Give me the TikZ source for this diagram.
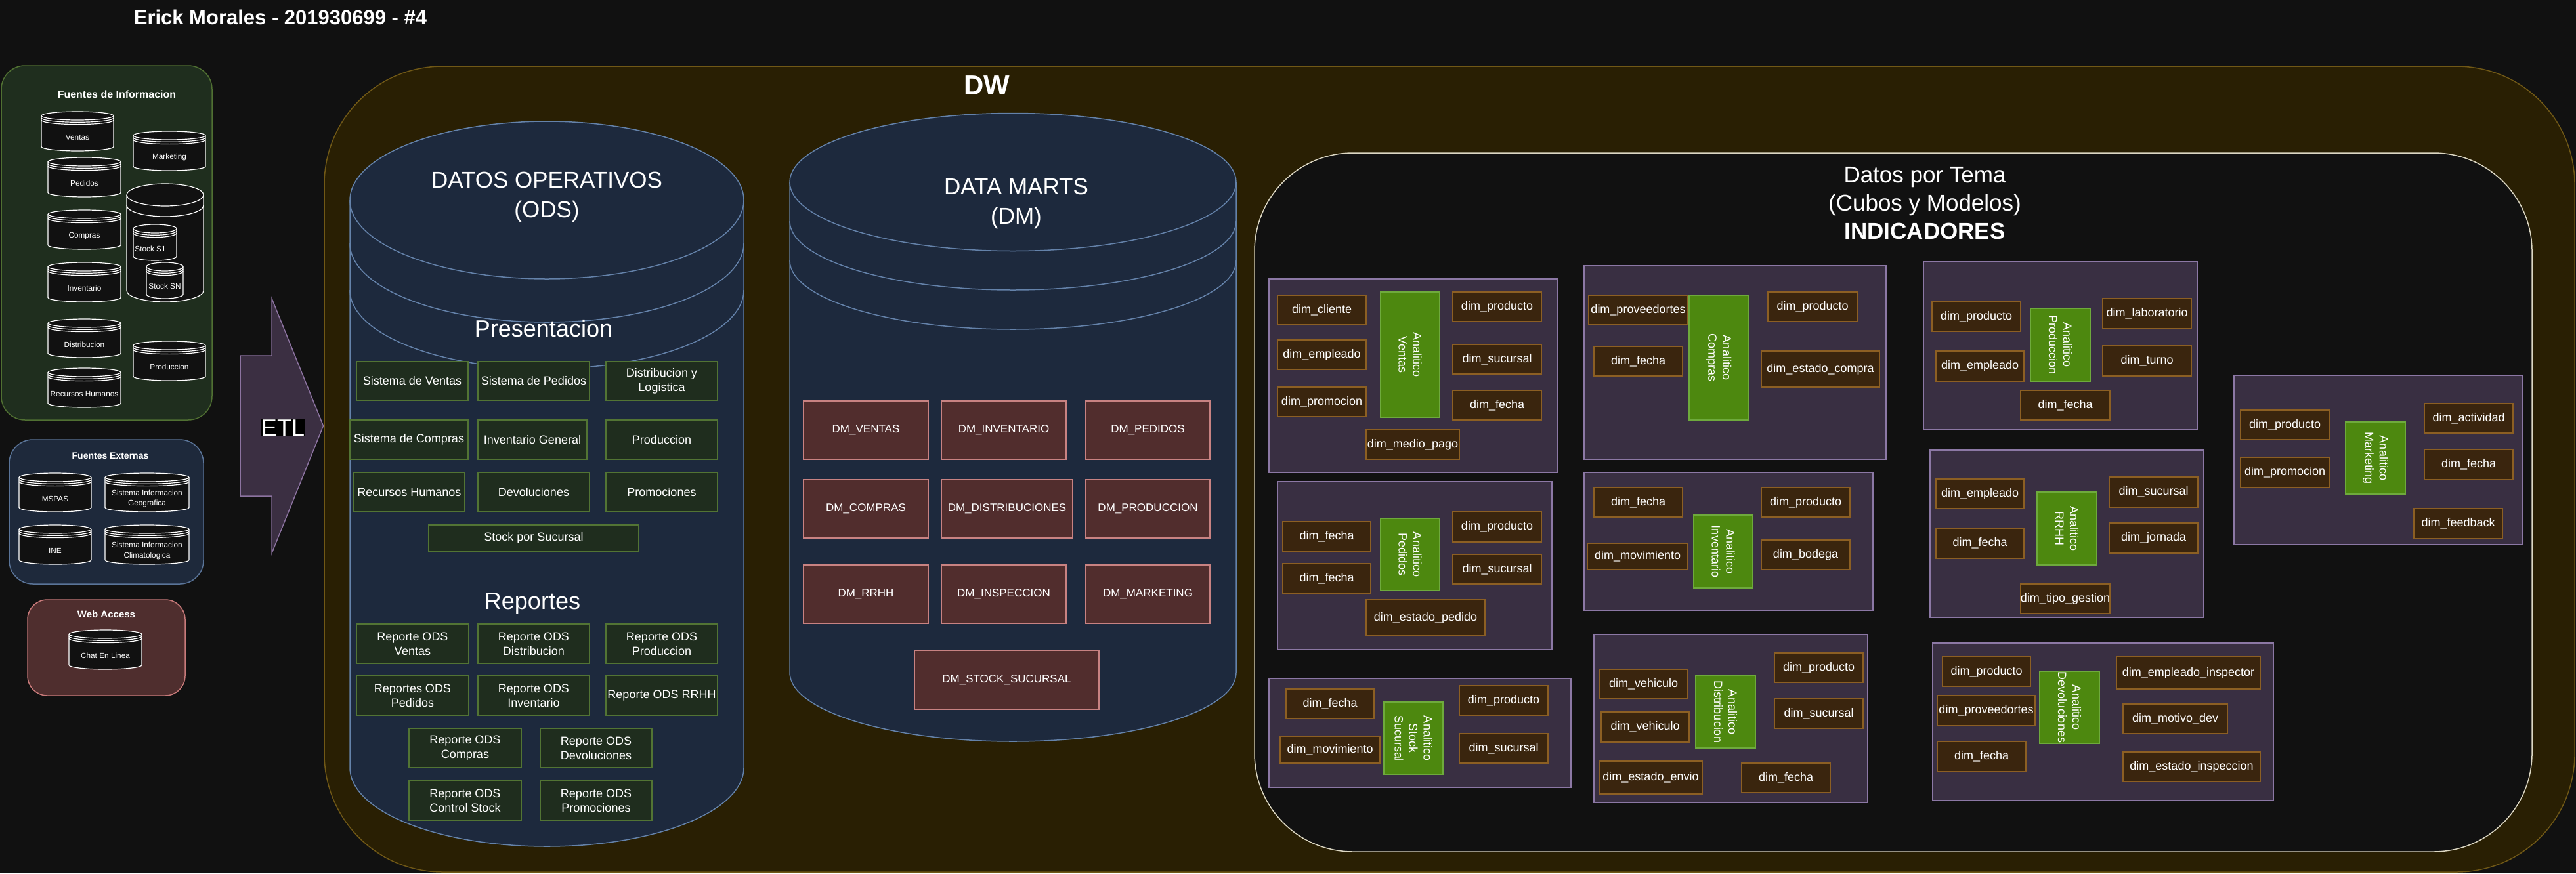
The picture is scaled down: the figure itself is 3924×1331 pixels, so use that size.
\documentclass[tikz,border=0pt]{standalone}
\usepackage{fontspec}
\setmainfont{Liberation Sans}
\definecolor{bgc}{RGB}{17,17,17}
\definecolor{dwfill}{RGB}{41,31,3}
\definecolor{dwdraw}{RGB}{112,88,22}
\definecolor{infofill}{RGB}{31,46,30}
\definecolor{infodraw}{RGB}{80,112,50}
\definecolor{extfill}{RGB}{30,41,59}
\definecolor{extdraw}{RGB}{90,116,152}
\definecolor{webfill}{RGB}{79,46,46}
\definecolor{webdraw}{RGB}{200,122,122}
\definecolor{cylfill}{RGB}{29,41,61}
\definecolor{cyldraw}{RGB}{100,130,170}
\definecolor{odsfill}{RGB}{31,45,30}
\definecolor{odsdraw}{RGB}{82,116,52}
\definecolor{dmfill}{RGB}{81,45,45}
\definecolor{dmdraw}{RGB}{200,130,130}
\definecolor{cubefill}{RGB}{57,47,66}
\definecolor{cubedraw}{RGB}{140,120,165}
\definecolor{dimfill}{RGB}{58,37,14}
\definecolor{dimdraw}{RGB}{140,95,35}
\definecolor{anfill}{RGB}{77,136,15}
\definecolor{andraw}{RGB}{110,170,60}
\definecolor{etlfill}{RGB}{59,47,66}
\definecolor{etldraw}{RGB}{140,115,160}
\definecolor{temadraw}{RGB}{220,215,195}

\tikzset{mytxt/.style={text=white,inner sep=0pt,align=center}}
\tikzset{mycyl/.style={draw=white,fill=bgc,line width=1.2pt}}
\tikzset{mybigcyl/.style={draw=cyldraw,fill=cylfill,line width=1.5pt}}
\tikzset{mycyltxt/.style={mytxt,font=\fontsize{11.8}{15.4}\selectfont}}
\tikzset{mytitle/.style={mytxt,font=\bfseries\fontsize{16}{20}\selectfont}}
\tikzset{mybig/.style={mytxt,font=\fontsize{35}{45}\selectfont}}
\tikzset{myods/.style={mytxt,draw=odsdraw,fill=odsfill,line width=1.5pt,font=\fontsize{18}{22}\selectfont}}
\tikzset{mydm/.style={mytxt,draw=dmdraw,fill=dmfill,line width=1.5pt,font=\fontsize{17}{21}\selectfont}}
\tikzset{mycube/.style={draw=cubedraw,fill=cubefill,line width=1.5pt}}
\tikzset{mydim/.style={mytxt,draw=dimdraw,fill=dimfill,line width=1.5pt,font=\fontsize{18}{22}\selectfont}}
\tikzset{myan/.style={mytxt,draw=andraw,fill=anfill,line width=1.5pt,font=\fontsize{18}{22}\selectfont}}

% box from two corners
\newcommand{\rbox}[7]{\node[#1,minimum width={#5-#3},minimum height={#6-#4}] (#2) at ({(#3+#5)/2},{(#4+#6)/2}) {#7};}
\newcommand{\anbox}[6]{\node[myan,rotate=-90,minimum width={#5-#3},minimum height={#4-#2}] (#1) at ({(#2+#4)/2},{(#3+#5)/2}) {#6};}
% database drum
\newcommand{\dsbody}[6]{%
  \pgfmathsetmacro\dsrx{(#3-#1)/2}
  \draw[#6] (#1,#2+#5) -- (#1,#4-#5) arc[start angle=180,end angle=360,x radius=\dsrx pt,y radius=#5pt] -- (#3,#2+#5) arc[start angle=0,end angle=180,x radius=\dsrx pt,y radius=#5pt] -- cycle;
  \draw[#6,fill=none] (#1,#2+#5) arc[start angle=180,end angle=360,x radius=\dsrx pt,y radius=#5pt];}
\newcommand{\dsring}[5]{%
  \pgfmathsetmacro\dsrx{(#3-#1)/2}
  \draw[#5,fill=none] (#1,#2) arc[start angle=180,end angle=360,x radius=\dsrx pt,y radius=#4pt];}
\newcommand{\smalldb}[6]{%
  \dsbody{#2}{#3}{#4}{#5}{6.5}{mycyl}
  \dsring{#2}{#3+9.8}{#4}{6.5}{mycyl}
  \dsring{#2}{#3+13.1}{#4}{6.5}{mycyl}
  \node[mycyltxt] (#1) at ({(#2+#4)/2},{(#3+#5)/2+9.5}) {#6};}

\begin{document}
\begin{tikzpicture}[x=1pt,y=-1pt]
	\fill[bgc] (0,0) rectangle (3924,1331);
	\useasboundingbox (0,0) rectangle (3924,1331);

	\node[mytxt,font=\bfseries\fontsize{31}{36}\selectfont] (title) at (427,26) {Erick Morales - 201930699 - \#4};

	% Sources
	\draw[draw=infodraw,fill=infofill,line width=1.5pt,rounded corners=36pt] (2,100) rectangle (323,640);
	\node[mytitle] (fuentes) at (178,144) {Fuentes de Informacion};
	\smalldb{srcVentas}{63}{170}{173}{230}{Ventas}
	\smalldb{srcMarketing}{203}{200}{313}{260}{Marketing}
	\smalldb{srcPedidos}{73}{240}{184}{300}{Pedidos}
	\smalldb{srcCompras}{73}{320}{184}{380}{Compras}
	\smalldb{srcInventario}{73}{400}{184}{460}{Inventario}
	\smalldb{srcDistribucion}{73}{486}{184}{545}{Distribucion}
	\smalldb{srcProduccion}{203}{520}{313}{580}{Produccion}
	\smalldb{srcRRHH}{73}{561}{184}{621}{Recursos Humanos}
	\dsbody{193}{280}{310}{460}{17}{mycyl}
	\dsring{193}{313}{310}{17}{mycyl}
	\smalldb{srcStockA}{203}{342}{269}{397}{}
	\smalldb{srcStockB}{223}{400}{279}{455}{}
	\node[mycyltxt] (stockA) at (229,379) {Stock S1};
	\node[mycyltxt] (stockB) at (251,436) {Stock SN};

	\draw[draw=extdraw,fill=extfill,line width=1.5pt,rounded corners=36pt] (14,670) rectangle (310,890);
	\node[mytitle,font=\bfseries\fontsize{14}{18}\selectfont] (externas) at (168,695) {Fuentes Externas};
	\smalldb{extMspas}{29}{721}{139}{780}{MSPAS}
	\smalldb{extGeo}{160}{721}{288}{780}{Sistema Informacion\\Geografica}
	\smalldb{extIne}{29}{800}{139}{860}{INE}
	\smalldb{extClima}{160}{800}{288}{860}{Sistema Informacion\\Climatologica}

	\draw[draw=webdraw,fill=webfill,line width=1.5pt,rounded corners=30pt] (42,914) rectangle (282,1060);
	\node[mytitle,font=\bfseries\fontsize{15}{18}\selectfont] (web) at (162,936) {Web Access};
	\smalldb{webChat}{105}{960}{216}{1020}{Chat En Linea}

	% ETL arrow
	\draw[draw=etldraw,fill=etlfill,line width=1.5pt,line join=miter] (366,542) -- (414,542) -- (414,455) -- (492.5,649) -- (414,843) -- (414,756) -- (366,756) -- cycle;
	\node[mytxt,fill=black,inner sep=1pt,font=\fontsize{36}{40}\selectfont] (etl) at (431,652) {ETL};

	% DW
	\draw[draw=dwdraw,fill=dwfill,line width=1.5pt,rounded corners=180pt] (494,101) rectangle (3922,1329);
	\node[mytxt,font=\bfseries\fontsize{42}{46}\selectfont] (dw) at (1503,130) {DW};

	% ODS
	\dsbody{533}{185}{1133}{1290}{120}{mybigcyl}
	\dsring{533}{371}{1133}{120}{mybigcyl}
	\dsring{533}{442}{1133}{120}{mybigcyl}
	\node[mybig] (ods) at (833,300) {DATOS OPERATIVOS\\(ODS)};
	\node[mybig,font=\fontsize{36}{40}\selectfont] (present) at (828,501) {Presentacion};
	\rbox{myods}{odsVentas}{543}{551}{713}{610}{Sistema de Ventas}
	\rbox{myods}{odsPedidos}{728}{551}{898}{610}{Sistema de Pedidos}
	\rbox{myods}{odsDistrib}{923}{551}{1093}{610}{Distribucion y\\Logistica}
	\rbox{myods}{odsCompras}{533}{640}{713}{700}{Sistema de Compras}
	\rbox{myods}{odsInv}{728}{640}{894}{700}{Inventario General}
	\rbox{myods}{odsProd}{923}{640}{1093}{700}{Produccion}
	\rbox{myods}{odsRRHH}{539}{720}{708}{780}{Recursos Humanos}
	\rbox{myods}{odsDev}{728}{720}{898}{780}{Devoluciones}
	\rbox{myods}{odsProm}{923}{720}{1093}{780}{Promociones}
	\rbox{myods}{odsStock}{653}{800}{973}{840}{Stock por Sucursal}
	\node[mybig,font=\fontsize{36}{40}\selectfont] (reportes) at (811,920) {Reportes};
	\rbox{myods}{repVentas}{543}{951}{714}{1011}{Reporte ODS\\Ventas}
	\rbox{myods}{repDistrib}{728}{951}{898}{1011}{Reporte ODS\\Distribucion}
	\rbox{myods}{repProd}{923}{951}{1093}{1011}{Reporte ODS\\Produccion}
	\rbox{myods}{repPedidos}{543}{1030}{714}{1090}{Reportes ODS\\Pedidos}
	\rbox{myods}{repInv}{728}{1030}{898}{1090}{Reporte ODS\\Inventario}
	\rbox{myods}{repRRHH}{923}{1030}{1093}{1090}{Reporte ODS RRHH}
	\rbox{myods}{repCompras}{623}{1110}{794}{1170}{Reporte ODS\\Compras}
	\rbox{myods}{repDev}{823}{1110}{993}{1170}{Reporte ODS\\Devoluciones}
	\rbox{myods}{repStock}{623}{1190}{794}{1250}{Reporte ODS\\Control Stock}
	\rbox{myods}{repProm}{823}{1190}{993}{1250}{Reporte ODS\\Promociones}

	% Data marts
	\dsbody{1203}{172.5}{1883}{1130}{105}{mybigcyl}
	\dsring{1203}{337}{1883}{105}{mybigcyl}
	\dsring{1203}{397}{1883}{105}{mybigcyl}
	\node[mybig] (dm) at (1548,310) {DATA MARTS\\(DM)};
	\rbox{mydm}{dmVentas}{1224}{611}{1414}{700}{DM\_VENTAS}
	\rbox{mydm}{dmInv}{1434}{611}{1624}{700}{DM\_INVENTARIO}
	\rbox{mydm}{dmPedidos}{1654}{611}{1843}{700}{DM\_PEDIDOS}
	\rbox{mydm}{dmCompras}{1224}{731}{1414}{820}{DM\_COMPRAS}
	\rbox{mydm}{dmDistrib}{1434}{731}{1634}{820}{DM\_DISTRIBUCIONES}
	\rbox{mydm}{dmProd}{1654}{731}{1843}{820}{DM\_PRODUCCION}
	\rbox{mydm}{dmRRHH}{1224}{861}{1414}{950}{DM\_RRHH}
	\rbox{mydm}{dmInsp}{1434}{861}{1624}{950}{DM\_INSPECCION}
	\rbox{mydm}{dmMkt}{1654}{861}{1843}{950}{DM\_MARKETING}
	\rbox{mydm}{dmStock}{1393}{991}{1674}{1081}{DM\_STOCK\_SUCURSAL}

	% Datos por tema
	\draw[draw=temadraw,fill=bgc,line width=1.5pt,rounded corners=150pt] (1911,233) rectangle (3857,1298);
	\node[mytxt,font=\fontsize{35}{43}\selectfont] (tema) at (2932,310) {Datos por Tema\\(Cubos y Modelos)\\\textbf{INDICADORES}};

	% Ventas
	\rbox{mycube}{cVentas}{1933}{425}{2373}{720}{}
	\rbox{mydim}{vCliente}{1946}{450}{2081}{495}{dim\_cliente}
	\rbox{mydim}{vEmpleado}{1946}{518}{2081}{563}{dim\_empleado}
	\rbox{mydim}{vPromocion}{1946}{590}{2081}{635}{dim\_promocion}
	\anbox{aVentas}{2103}{445}{2193}{636}{Analitico\\Ventas}
	\rbox{mydim}{vProducto}{2213}{445}{2348}{490}{dim\_producto}
	\rbox{mydim}{vSucursal}{2213}{525}{2348}{570}{dim\_sucursal}
	\rbox{mydim}{vFecha}{2213}{595}{2348}{640}{dim\_fecha}
	\rbox{mydim}{vPago}{2081}{655}{2223}{700}{dim\_medio\_pago}

	% Compras
	\rbox{mycube}{cCompras}{2413}{405}{2873}{700}{}
	\rbox{mydim}{coProv}{2420}{450}{2571}{495}{dim\_proveedortes}
	\rbox{mydim}{coFecha}{2428}{528}{2563}{573}{dim\_fecha}
	\anbox{aCompras}{2573}{450}{2663}{640}{Analitico\\Compras}
	\rbox{mydim}{coProducto}{2693}{445}{2829}{490}{dim\_producto}
	\rbox{mydim}{coEstado}{2683}{535}{2863}{590}{dim\_estado\_compra}

	% Pedidos
	\rbox{mycube}{cPedidos}{1946}{734}{2364}{990}{}
	\rbox{mydim}{pFechaA}{1954}{795}{2088}{840}{dim\_fecha}
	\rbox{mydim}{pFechaB}{1954}{859}{2088}{904}{dim\_fecha}
	\anbox{aPedidos}{2103}{790}{2193}{900}{Analitico\\Pedidos}
	\rbox{mydim}{pProducto}{2213}{780}{2348}{826}{dim\_producto}
	\rbox{mydim}{pSucursal}{2213}{845}{2348}{890}{dim\_sucursal}
	\rbox{mydim}{pEstado}{2081}{914}{2262}{969}{dim\_estado\_pedido}

	% Inventario
	\rbox{mycube}{cInv}{2413}{720}{2853}{930}{}
	\rbox{mydim}{iFecha}{2428}{743}{2563}{788}{dim\_fecha}
	\rbox{mydim}{iMov}{2418}{828}{2571}{868}{dim\_movimiento}
	\anbox{aInv}{2580}{785}{2670}{896}{Analitico\\Inventario}
	\rbox{mydim}{iProducto}{2683}{743}{2818}{788}{dim\_producto}
	\rbox{mydim}{iBodega}{2683}{823}{2818}{868}{dim\_bodega}

	% Stock sucursal
	\rbox{mycube}{cStock}{1933}{1034}{2393}{1200}{}
	\rbox{mydim}{sFecha}{1959}{1050}{2093}{1095}{dim\_fecha}
	\rbox{mydim}{sMov}{1950}{1122}{2102}{1163}{dim\_movimiento}
	\anbox{aStock}{2108}{1070}{2198}{1180}{Analitico\\Stock\\Sucursal}
	\rbox{mydim}{sProducto}{2223}{1045}{2358}{1090}{dim\_producto}
	\rbox{mydim}{sSucursal}{2223}{1118}{2358}{1163}{dim\_sucursal}

	% Distribucion
	\rbox{mycube}{cDist}{2428}{967}{2845}{1223}{}
	\rbox{mydim}{dVehA}{2436}{1020}{2571}{1065}{dim\_vehiculo}
	\rbox{mydim}{dVehB}{2439}{1085}{2573}{1131}{dim\_vehiculo}
	\anbox{aDist}{2583}{1030}{2674}{1140}{Analitico\\Distribucion}
	\rbox{mydim}{dProducto}{2703}{995}{2838}{1040}{dim\_producto}
	\rbox{mydim}{dSucursal}{2703}{1065}{2838}{1110}{dim\_sucursal}
	\rbox{mydim}{dEnvio}{2436}{1160}{2593}{1210}{dim\_estado\_envio}
	\rbox{mydim}{dFecha}{2653}{1163}{2788}{1208}{dim\_fecha}

	% Produccion
	\rbox{mycube}{cProd}{2930}{399}{3347}{655}{}
	\rbox{mydim}{prProducto}{2943}{460}{3078}{505}{dim\_producto}
	\rbox{mydim}{prEmpleado}{2949}{535}{3083}{581}{dim\_empleado}
	\anbox{aProd}{3093}{470}{3184}{581}{Analitico\\Produccion}
	\rbox{mydim}{prLab}{3203}{455}{3338}{501}{dim\_laboratorio}
	\rbox{mydim}{prTurno}{3203}{527}{3338}{573}{dim\_turno}
	\rbox{mydim}{prFecha}{3078}{595}{3214}{640}{dim\_fecha}

	% Marketing
	\rbox{mycube}{cMkt}{3403}{572}{3843}{830}{}
	\rbox{mydim}{mProducto}{3413}{625}{3548}{670}{dim\_producto}
	\rbox{mydim}{mPromocion}{3413}{697}{3548}{743}{dim\_promocion}
	\anbox{aMkt}{3573}{643}{3664}{753}{Analitico\\Marketing}
	\rbox{mydim}{mActividad}{3693}{615}{3828}{660}{dim\_actividad}
	\rbox{mydim}{mFecha}{3693}{685}{3828}{731}{dim\_fecha}
	\rbox{mydim}{mFeedback}{3677}{775}{3812}{821}{dim\_feedback}

	% RRHH
	\rbox{mycube}{cRRHH}{2940}{686}{3357}{941}{}
	\rbox{mydim}{rEmpleado}{2949}{730}{3083}{775}{dim\_empleado}
	\rbox{mydim}{rFecha}{2949}{805}{3083}{851}{dim\_fecha}
	\anbox{aRRHH}{3103}{750}{3194}{861}{Analitico\\RRHH}
	\rbox{mydim}{rSucursal}{3213}{727}{3348}{773}{dim\_sucursal}
	\rbox{mydim}{rJornada}{3213}{797}{3348}{843}{dim\_jornada}
	\rbox{mydim}{rGestion}{3078}{890}{3214}{935}{dim\_tipo\_gestion}

	% Devoluciones
	\rbox{mycube}{cDev}{2944}{980}{3463}{1220}{}
	\rbox{mydim}{dvProducto}{2959}{1001}{3093}{1046}{dim\_producto}
	\rbox{mydim}{dvProv}{2951}{1060}{3100}{1106}{dim\_proveedortes}
	\rbox{mydim}{dvFecha}{2951}{1130}{3086}{1176}{dim\_fecha}
	\anbox{aDev}{3107}{1023}{3198}{1133}{Analitico\\Devoluciones}
	\rbox{mydim}{dvInspector}{3224}{1001}{3443}{1050}{dim\_empleado\_inspector}
	\rbox{mydim}{dvMotivo}{3234}{1073}{3393}{1118}{dim\_motivo\_dev}
	\rbox{mydim}{dvEstado}{3234}{1146}{3443}{1191}{dim\_estado\_inspeccion}
\end{tikzpicture}
\end{document}
